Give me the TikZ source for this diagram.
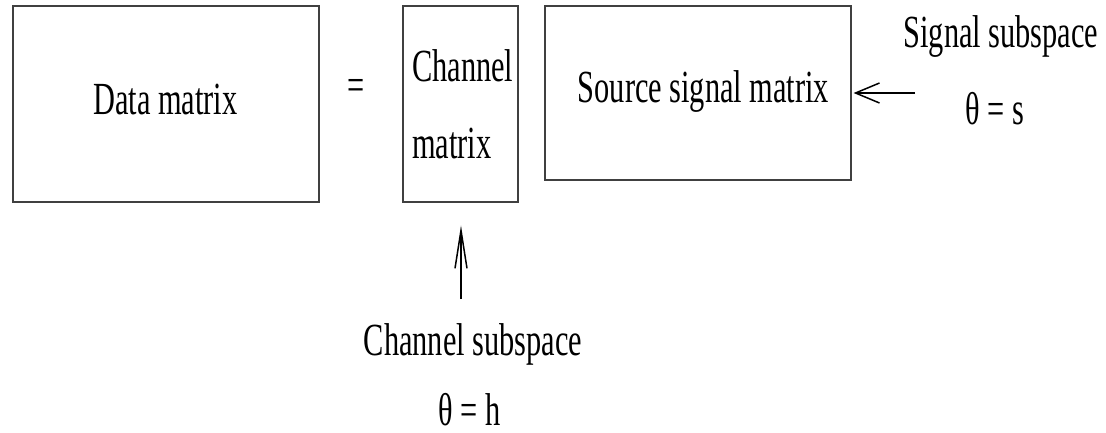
\documentclass[tikz,border=0pt]{standalone}
\usepackage{fontspec}
\setmainfont{Liberation Serif}[FakeStretch=0.66]
\usetikzlibrary{arrows.meta}
\begin{document}
\begin{tikzpicture}[x=1pt,y=-1pt,
  box/.style={draw=black!75, line width=1.1pt, inner sep=0pt},
  lbl/.style={inner sep=0pt, font=\fontsize{46}{55}\selectfont},
  ptr/.style={line width=1.5pt, black}]
  \useasboundingbox (0,0) rectangle (1106,433);

  % the three matrix boxes
  \node[box, minimum width=306pt, minimum height=196pt] (data) at (166,104) {};
  \node[box, minimum width=115pt, minimum height=196pt] (chan) at (460.5,104) {};
  \node[box, minimum width=306pt, minimum height=174pt] (src) at (698,93) {};

  % box texts
  \node[lbl, anchor=base] (datatxt) at (165.5,115) {Data matrix};
  \node[lbl, anchor=center] (eq) at (356,90) {=};
  \node[lbl, anchor=base west] (chtxt1) at (412,82) {Channel};
  \node[lbl, anchor=base west] (chtxt2) at (412,158) {matrix};
  \node[lbl, anchor=base] (srctxt) at (703.5,103) {Source signal matrix};

  % subspace labels
  \node[lbl, anchor=base] (sigsub) at (1001,48) {Signal subspace};
  \node[lbl, anchor=base] (sigth) at (995,125) {θ = s};
  \node[lbl, anchor=base] (chsub) at (473,355) {Channel subspace};
  \node[lbl, anchor=base] (chth) at (469.5,425) {θ = h};

  % pointers into the boxes
  \coordinate (sigtail) at (915,93);
  \coordinate (chtail) at (461,299);
  \draw[ptr, -{Straight Barb[length=24pt, width=20pt]}] (sigtail) -- ([xshift=2pt]src.east);
  \draw[ptr, -{Straight Barb[length=38pt, width=12pt]}] (chtail) -- ([xshift=0.5pt, yshift=-23pt]chan.south);
\end{tikzpicture}
\end{document}
